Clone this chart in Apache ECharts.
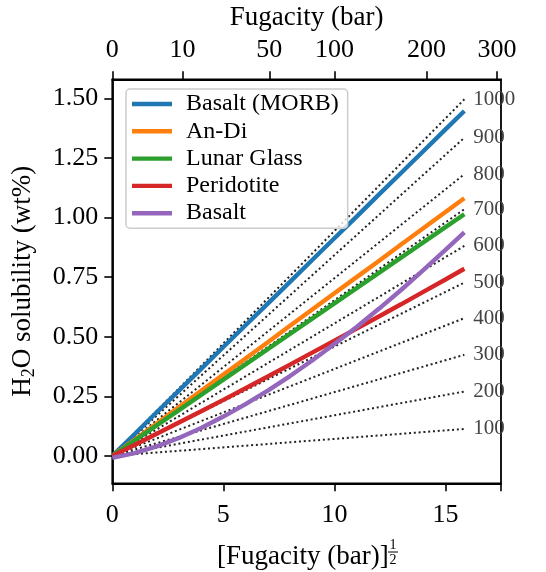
<!DOCTYPE html>
<html>
<head>
<meta charset="utf-8">
<script src="https://cdn.jsdelivr.net/npm/echarts@6/dist/echarts.min.js"></script>
<style>html,body{margin:0;padding:0;background:#fff;}#c{width:546px;height:572px;}</style>
</head>
<body>
<div id="c"></div>
<script>
// ---- data ----
const sqrtF = [0,1,2,3,4,5,6,7,8,9,10,11,12,13,14,15,15.85];
const seriesNames = ['Basalt (MORB)','An-Di','Lunar Glass','Peridotite','Basalt'];
const basaltMORB = [0,0.091,0.183,0.274,0.365,0.457,0.548,0.639,0.730,0.822,0.913,1.004,1.096,1.187,1.278,1.370,1.447];
const anDi       = [0,0.068,0.136,0.205,0.273,0.341,0.409,0.477,0.546,0.614,0.682,0.750,0.818,0.887,0.955,1.023,1.081];
const lunarGlass = [0,0.064,0.128,0.192,0.256,0.320,0.384,0.448,0.512,0.576,0.640,0.704,0.768,0.832,0.896,0.960,1.014];
const peridotite = [0,0.046,0.093,0.140,0.187,0.235,0.284,0.333,0.383,0.433,0.483,0.534,0.585,0.636,0.688,0.740,0.785];
const basalt     = [-0.008,0.012,0.040,0.075,0.117,0.165,0.217,0.274,0.335,0.400,0.469,0.541,0.617,0.696,0.779,0.864,0.938];
const isoLabels = ['1000','900','800','700','600','500','400','300','200','100'];
const isoEndX = 15.85;
const isoEndY = [1.496,1.335,1.182,1.035,0.881,0.727,0.578,0.424,0.270,0.113];
const bottomTicks = [0,5,10,15];
const topTickFug = [0,10,50,100,200,300];
const yTicks = [0,0.25,0.5,0.75,1.0,1.25,1.5];

// ---- styles ----
const colors = ['#1f77b4','#ff7f0e','#2ca02c','#d62728','#9467bd'];
const FONT = 'Liberation Serif';
const seriesData = [basaltMORB, anDi, lunarGlass, peridotite, basalt];

const chart = echarts.init(document.getElementById('c'), null, {renderer:'canvas'});
const series = [];
isoLabels.forEach((lab, i) => {
  series.push({
    type:'line', name: 'iso'+lab, xAxisIndex:0, yAxisIndex:0,
    data: [[0,0],[isoEndX, isoEndY[i]]],
    showSymbol:false, silent:true, z:1,
    lineStyle:{color:'#222', width:2, type:[2,2.8], cap:'butt'},
    endLabel:{show:true, formatter: lab, distance:9, color:'#444', fontFamily:FONT, fontSize:21}
  });
});
seriesNames.forEach((nm, i) => {
  series.push({
    type:'line', name:nm, xAxisIndex:0, yAxisIndex:0,
    data: sqrtF.map((x,j)=>[x, seriesData[i][j]]),
    showSymbol:false, z:3, color:colors[i],
    lineStyle:{color:colors[i], width:4.4, cap:'butt'}
  });
});

const topPos = topTickFug.map(v=>Math.sqrt(v));
const axisLineStyle = {color:'#000', width:1.8};
const option = {
  animation:false,
  grid:{left:112.3, right:45, top:79.3, bottom:88.7, show:true, borderColor:'#000', borderWidth:1.8, outerBoundsMode:'none'},
  legend:{
    data: seriesNames, orient:'vertical', left:126, top:89,
    icon:'rect', itemWidth:40, itemHeight:4.4, itemGap:3.3,
    padding:[3,9,3,6],
    backgroundColor:'rgba(255,255,255,0.8)', borderColor:'#cccccc', borderWidth:1.5, borderRadius:4,
    textStyle:{fontFamily:FONT, fontSize:24, color:'#000', lineHeight:24, padding:[0,0,0,9]}
  },
  xAxis:[{
    type:'value', position:'bottom', min:0, max:17.5, interval:5,
    axisLine:{show:true, onZero:false, lineStyle:axisLineStyle},
    axisTick:{show:true, length:8, lineStyle:{color:'#000', width:1.6}},
    axisLabel:{color:'#000', fontFamily:FONT, fontSize:26, margin:19,
      customValues: bottomTicks, formatter: v=>String(v)},
    splitLine:{show:false}
  },{
    type:'value', position:'top', min:0, max:17.5,
    name:'Fugacity (bar)', nameLocation:'middle', nameGap:48,
    nameTextStyle:{color:'#000', fontFamily:FONT, fontSize:27},
    axisLine:{show:true, onZero:false, lineStyle:axisLineStyle},
    axisTick:{show:true, length:8, customValues: topPos, lineStyle:{color:'#000', width:1.6}},
    axisLabel:{color:'#000', fontFamily:FONT, fontSize:26, margin:16, customValues: topPos,
      formatter: v => { let k=0; topPos.forEach((p,i)=>{ if(Math.abs(p-v)<1e-6) k=i; }); return String(topTickFug[k]); }},
    splitLine:{show:false}
  }],
  yAxis:[{
    type:'value', min:-0.115, max:1.58,
    name:'H{sub|2}O solubility (wt%)', nameLocation:'middle', nameGap:74,
    nameTextStyle:{color:'#000', fontFamily:FONT, fontSize:27, lineHeight:30,
      rich:{sub:{fontFamily:FONT, fontSize:18, verticalAlign:'bottom', lineHeight:22, padding:[10,0,0,0]}}},
    axisLine:{show:true, onZero:false, lineStyle:axisLineStyle},
    axisTick:{show:true, length:8, customValues:yTicks, lineStyle:{color:'#000', width:1.6}},
    axisLabel:{color:'#000', fontFamily:FONT, fontSize:26, margin:14, customValues:yTicks,
      formatter: v=>v.toFixed(2)},
    splitLine:{show:false}
  }],
  graphic:[
    {type:'text', left:217, top:543, style:{text:'[Fugacity (bar)]', font:'27px "Liberation Serif"', fill:'#000'}},
    {type:'text', x:393, y:545, style:{text:'1', font:'14px "Liberation Serif"', fill:'#000', align:'center', verticalAlign:'middle'}},
    {type:'line', shape:{x1:388, y1:552, x2:398, y2:552}, style:{stroke:'#000', lineWidth:1}},
    {type:'text', x:393, y:560, style:{text:'2', font:'14px "Liberation Serif"', fill:'#000', align:'center', verticalAlign:'middle'}}
  ],
  series: series
};
chart.setOption(option);
</script>
</body>
</html>
